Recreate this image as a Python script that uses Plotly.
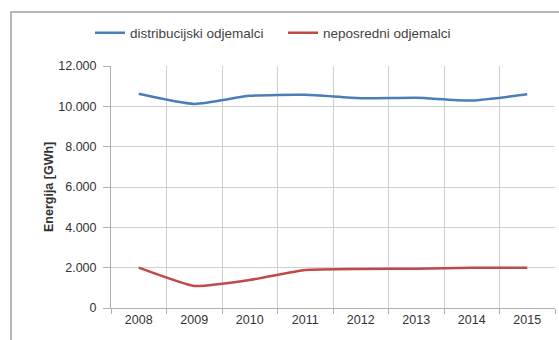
import plotly.graph_objects as go

years = ["2008", "2009", "2010", "2011", "2012", "2013", "2014", "2015"]
distribucijski = [10620, 10120, 10520, 10570, 10400, 10420, 10290, 10600]
neposredni = [2000, 1090, 1390, 1890, 1940, 1950, 1990, 2000]
y_ticks = [0, 2000, 4000, 6000, 8000, 10000, 12000]

W, H = 559, 340
L, R, T, B = 111, 4, 66, 32
pw, ph = W - L - R, H - T - B

fig = go.Figure()
fig.add_trace(go.Scatter(
    x=years, y=distribucijski, mode="lines", name="distribucijski odjemalci",
    line=dict(color="#4a7ebb", width=2.5, shape="spline", smoothing=0.6),
    legend="legend",
))
fig.add_trace(go.Scatter(
    x=years, y=neposredni, mode="lines", name="neposredni odjemalci",
    line=dict(color="#be4b48", width=2.5, shape="spline", smoothing=0.4),
    legend="legend2",
))

def px_x(v):
    return (v - L) / pw

def px_y(v):
    return 1 - (v - T) / ph

# outer chart frame
fig.add_shape(type="rect", xref="paper", yref="paper",
              x0=px_x(11), x1=px_x(570), y0=px_y(350), y1=px_y(12),
              line=dict(color="#a0a0a0", width=1.5), layer="below")

fig.add_annotation(text="<b>Energija [GWh]</b>", xref="paper", yref="paper",
                   x=px_x(40), y=0.5, textangle=-90, showarrow=False,
                   font=dict(size=12.5, color="#333333"))

legend_style = dict(orientation="h", yanchor="middle", y=px_y(33), xanchor="left",
                    font=dict(size=13.5, color="#444444"), itemwidth=30,
                    bgcolor="rgba(0,0,0,0)")

fig.update_layout(
    width=W, height=H,
    margin=dict(l=L, r=R, t=T, b=B),
    paper_bgcolor="white", plot_bgcolor="white",
    font=dict(family="Liberation Sans, Arial, sans-serif", size=12.5, color="#333333"),
    separators=",.",
    showlegend=True,
    legend=dict(x=px_x(90), **legend_style),
    legend2=dict(x=px_x(283), **legend_style),
    xaxis=dict(
        type="category", range=[-0.5, 7.5], tickson="boundaries",
        showgrid=True, gridcolor="#d0d0d0", gridwidth=1,
        showline=True, linecolor="#b0b0b0", linewidth=1,
        ticks="outside", ticklen=5, tickcolor="#b0b0b0",
        tickfont=dict(size=12.5, color="#333333"),
    ),
    yaxis=dict(
        range=[0, 12000], tickvals=y_ticks, tickformat=",d",
        showgrid=True, gridcolor="#d0d0d0", gridwidth=1,
        showline=True, linecolor="#b0b0b0", linewidth=1,
        ticks="outside", ticklen=7, tickcolor="#b0b0b0", ticklabelstandoff=4,
        tickfont=dict(size=12.5, color="#333333"), zeroline=False,
    ),
)

fig.write_html("out.html")
